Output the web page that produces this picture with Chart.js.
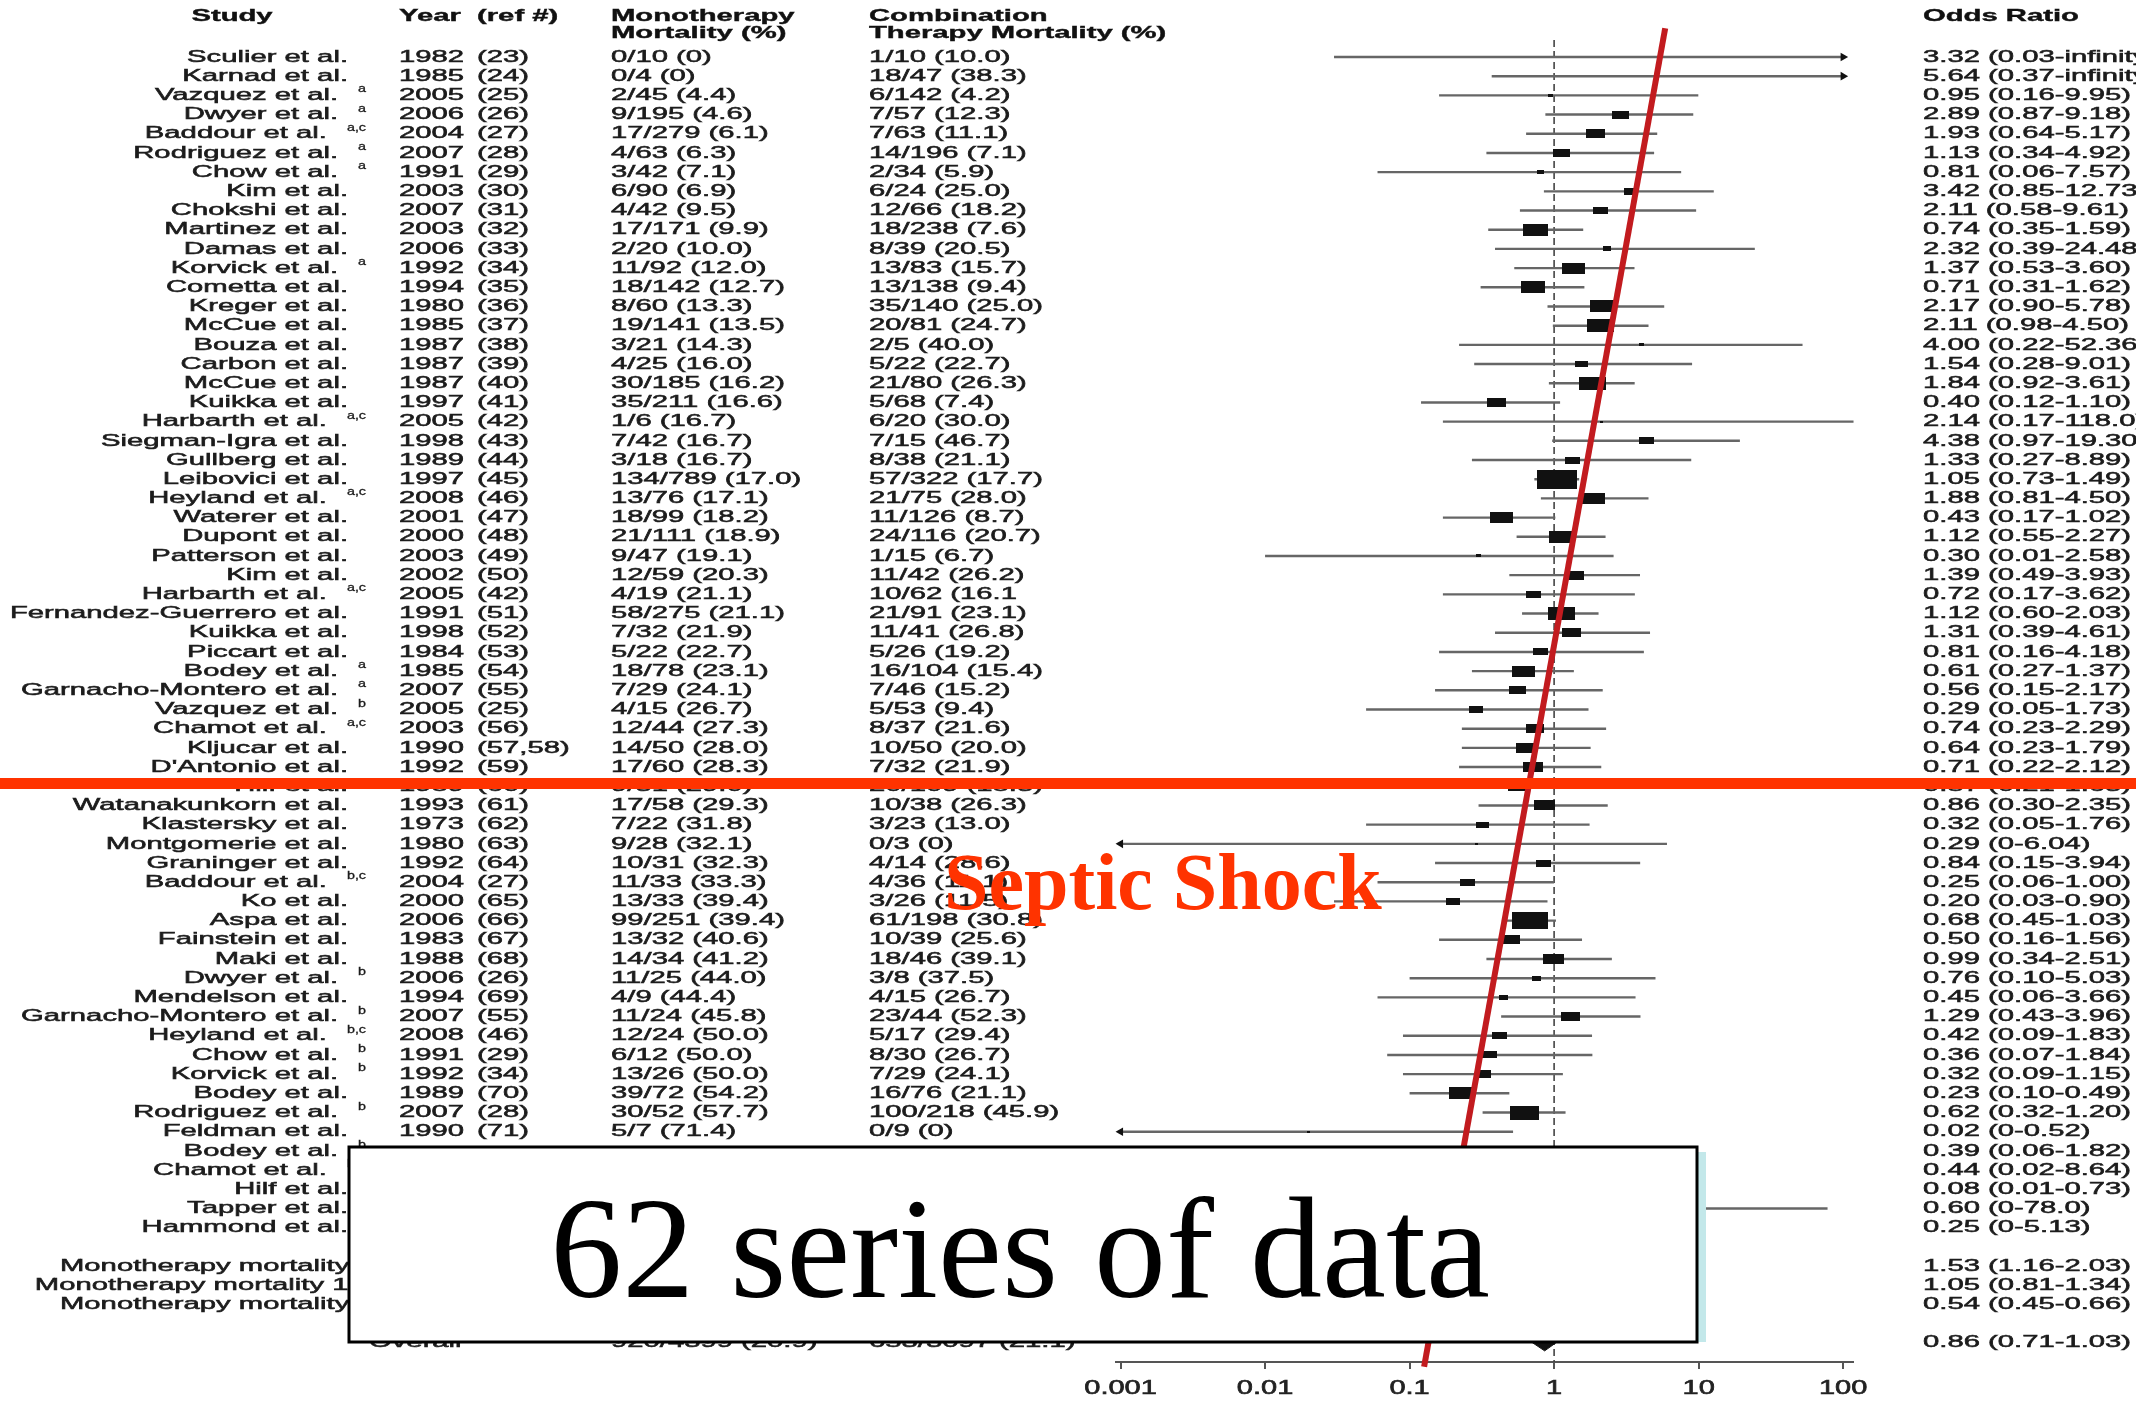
<!DOCTYPE html>
<html><head><meta charset="utf-8">
<script src="https://cdn.jsdelivr.net/npm/chart.js@4.4.0/dist/chart.umd.min.js"></script>
<style>html,body{margin:0;padding:0;background:#fff;}#wrap{width:2136px;height:1401px;}</style>
</head><body><div id="wrap"><canvas id="c" width="2136" height="1401"></canvas></div>
<script>
// ---------------- DATA ----------------
const studies = ["Sculier et al.","Karnad et al.","Vazquez et al.","Dwyer et al.","Baddour et al.","Rodriguez et al.","Chow et al.","Kim et al.","Chokshi et al.","Martinez et al.","Damas et al.","Korvick et al.","Cometta et al.","Kreger et al.","McCue et al.","Bouza et al.","Carbon et al.","McCue et al.","Kuikka et al.","Harbarth et al.","Siegman-Igra et al.","Gullberg et al.","Leibovici et al.","Heyland et al.","Waterer et al.","Dupont et al.","Patterson et al.","Kim et al.","Harbarth et al.","Fernandez-Guerrero et al.","Kuikka et al.","Piccart et al.","Bodey et al.","Garnacho-Montero et al.","Vazquez et al.","Chamot et al.","Kljucar et al.","D'Antonio et al.","Hilf et al.","Watanakunkorn et al.","Klastersky et al.","Montgomerie et al.","Graninger et al.","Baddour et al.","Ko et al.","Aspa et al.","Fainstein et al.","Maki et al.","Dwyer et al.","Mendelson et al.","Garnacho-Montero et al.","Heyland et al.","Chow et al.","Korvick et al.","Bodey et al.","Rodriguez et al.","Feldman et al.","Bodey et al.","Chamot et al.","Hilf et al.","Tapper et al.","Hammond et al."];
const superscripts = ["","","a","a","a,c","a","a","","","","","a","","","","","","","","a,c","","","","a,c","","","","","a,c","","","","a","a","b","a,c","","","","","","","","b,c","","","","","b","","b","b,c","b","b","","b","","b","b,c","","",""];
const years = ["1982","1985","2005","2006","2004","2007","1991","2003","2007","2003","2006","1992","1994","1980","1985","1987","1987","1987","1997","2005","1998","1989","1997","2008","2001","2000","2003","2002","2005","1991","1998","1984","1985","2007","2005","2003","1990","1992","1989","1993","1973","1980","1992","2004","2000","2006","1983","1988","2006","1994","2007","2008","1991","1992","1989","2007","1990","","","","",""];
const refs = ["(23)","(24)","(25)","(26)","(27)","(28)","(29)","(30)","(31)","(32)","(33)","(34)","(35)","(36)","(37)","(38)","(39)","(40)","(41)","(42)","(43)","(44)","(45)","(46)","(47)","(48)","(49)","(50)","(42)","(51)","(52)","(53)","(54)","(55)","(25)","(56)","(57,58)","(59)","(60)","(61)","(62)","(63)","(64)","(27)","(65)","(66)","(67)","(68)","(26)","(69)","(55)","(46)","(29)","(34)","(70)","(28)","(71)","","","","",""];
const monoMortality = ["0/10 (0)","0/4 (0)","2/45 (4.4)","9/195 (4.6)","17/279 (6.1)","4/63 (6.3)","3/42 (7.1)","6/90 (6.9)","4/42 (9.5)","17/171 (9.9)","2/20 (10.0)","11/92 (12.0)","18/142 (12.7)","8/60 (13.3)","19/141 (13.5)","3/21 (14.3)","4/25 (16.0)","30/185 (16.2)","35/211 (16.6)","1/6 (16.7)","7/42 (16.7)","3/18 (16.7)","134/789 (17.0)","13/76 (17.1)","18/99 (18.2)","21/111 (18.9)","9/47 (19.1)","12/59 (20.3)","4/19 (21.1)","58/275 (21.1)","7/32 (21.9)","5/22 (22.7)","18/78 (23.1)","7/29 (24.1)","4/15 (26.7)","12/44 (27.3)","14/50 (28.0)","17/60 (28.3)","9/31 (29.0)","17/58 (29.3)","7/22 (31.8)","9/28 (32.1)","10/31 (32.3)","11/33 (33.3)","13/33 (39.4)","99/251 (39.4)","13/32 (40.6)","14/34 (41.2)","11/25 (44.0)","4/9 (44.4)","11/24 (45.8)","12/24 (50.0)","6/12 (50.0)","13/26 (50.0)","39/72 (54.2)","30/52 (57.7)","5/7 (71.4)","","","","",""];
const comboMortality = ["1/10 (10.0)","18/47 (38.3)","6/142 (4.2)","7/57 (12.3)","7/63 (11.1)","14/196 (7.1)","2/34 (5.9)","6/24 (25.0)","12/66 (18.2)","18/238 (7.6)","8/39 (20.5)","13/83 (15.7)","13/138 (9.4)","35/140 (25.0)","20/81 (24.7)","2/5 (40.0)","5/22 (22.7)","21/80 (26.3)","5/68 (7.4)","6/20 (30.0)","7/15 (46.7)","8/38 (21.1)","57/322 (17.7)","21/75 (28.0)","11/126 (8.7)","24/116 (20.7)","1/15 (6.7)","11/42 (26.2)","10/62 (16.1","21/91 (23.1)","11/41 (26.8)","5/26 (19.2)","16/104 (15.4)","7/46 (15.2)","5/53 (9.4)","8/37 (21.6)","10/50 (20.0)","7/32 (21.9)","20/109 (18.3)","10/38 (26.3)","3/23 (13.0)","0/3 (0)","4/14 (28.6)","4/36 (11.1)","3/26 (11.5)","61/198 (30.8)","10/39 (25.6)","18/46 (39.1)","3/8 (37.5)","4/15 (26.7)","23/44 (52.3)","5/17 (29.4)","8/30 (26.7)","7/29 (24.1)","16/76 (21.1)","100/218 (45.9)","0/9 (0)","","","","",""];
const oddsRatios = ["3.32 (0.03-infinity)","5.64 (0.37-infinity)","0.95 (0.16-9.95)","2.89 (0.87-9.18)","1.93 (0.64-5.17)","1.13 (0.34-4.92)","0.81 (0.06-7.57)","3.42 (0.85-12.73)","2.11 (0.58-9.61)","0.74 (0.35-1.59)","2.32 (0.39-24.48)","1.37 (0.53-3.60)","0.71 (0.31-1.62)","2.17 (0.90-5.78)","2.11 (0.98-4.50)","4.00 (0.22-52.36)","1.54 (0.28-9.01)","1.84 (0.92-3.61)","0.40 (0.12-1.10)","2.14 (0.17-118.0)","4.38 (0.97-19.30)","1.33 (0.27-8.89)","1.05 (0.73-1.49)","1.88 (0.81-4.50)","0.43 (0.17-1.02)","1.12 (0.55-2.27)","0.30 (0.01-2.58)","1.39 (0.49-3.93)","0.72 (0.17-3.62)","1.12 (0.60-2.03)","1.31 (0.39-4.61)","0.81 (0.16-4.18)","0.61 (0.27-1.37)","0.56 (0.15-2.17)","0.29 (0.05-1.73)","0.74 (0.23-2.29)","0.64 (0.23-1.79)","0.71 (0.22-2.12)","0.57 (0.21-1.63)","0.86 (0.30-2.35)","0.32 (0.05-1.76)","0.29 (0-6.04)","0.84 (0.15-3.94)","0.25 (0.06-1.00)","0.20 (0.03-0.90)","0.68 (0.45-1.03)","0.50 (0.16-1.56)","0.99 (0.34-2.51)","0.76 (0.10-5.03)","0.45 (0.06-3.66)","1.29 (0.43-3.96)","0.42 (0.09-1.83)","0.36 (0.07-1.84)","0.32 (0.09-1.15)","0.23 (0.10-0.49)","0.62 (0.32-1.20)","0.02 (0-0.52)","0.39 (0.06-1.82)","0.44 (0.02-8.64)","0.08 (0.01-0.73)","0.60 (0-78.0)","0.25 (0-5.13)"];
// relative study weight (drives box size)
const studyWeights = [0,0,3,8,9,8,4,6.5,7,12,4.5,11,11.5,12,13,3,6,13,9,2,7,7,19,11,11,12,3,9,7,13,9,7,11,8,6.5,8.5,9.5,9.5,10,10,6,2,7,7,6.5,17,9,10,5,5,9,7,7,7.5,12,14,2,5,3,4,2,3];
const summaryLabels = ["Monotherapy mortality <15%","Monotherapy mortality 15-25%","Monotherapy mortality >25%"];
const summaryOddsRatios = ["1.53 (1.16-2.03)","1.05 (0.81-1.34)","0.54 (0.45-0.66)"];
const overallLabel = "Overall";
const overallMono = "920/4399 (20.9)";
const overallCombo = "653/3097 (21.1)";
const overallOddsRatio = "0.86 (0.71-1.03)";
const axisTicks = [0.001, 0.01, 0.1, 1, 10, 100];
const axisTickLabels = ["0.001","0.01","0.1","1","10","100"];
const headerTexts = {study:"Study", year:"Year", ref:"(ref #)", mono1:"Monotherapy", mono2:"Mortality (%)", combo1:"Combination", combo2:"Therapy Mortality (%)", or:"Odds Ratio"};
const trendLine = [{x:5.87, y:-1.5}, {x:0.126, y:68.25}];
const overlayTitle = "Septic Shock";
const overlayNote = "62 series of data";

// ---------------- HELPERS ----------------
function parseOR(s){
  const m = s.match(/^([\d.]+) \(([\d.]+)-([\d.]+|infinity)\)$/);
  return {or:+m[1], lo:+m[2], hi: m[3]==='infinity' ? Infinity : +m[3]};
}
const AX_MIN = 0.001, AX_MAX = 100;
const SUMMARY_ROW0 = 63, OVERALL_ROW = 67;
function makeBox(w,h){
  const c = document.createElement('canvas');
  c.width = Math.max(1, Math.round(w)); c.height = Math.max(1, Math.round(h));
  const g = c.getContext('2d'); g.fillStyle = '#111'; g.fillRect(0,0,c.width,c.height);
  return c;
}
const SX = 1.72;
const ROW_FONT = '17px "Liberation Sans", Arial, sans-serif';
const HEAD_FONT = 'bold 17px "Liberation Sans", Arial, sans-serif';
function stext(ctx, str, x, y, align, font, color, sx, heavy){
  ctx.save();
  ctx.font = font; ctx.fillStyle = color; ctx.textBaseline = 'middle';
  ctx.translate(x, y); ctx.scale(sx, 1); ctx.textAlign = align;
  ctx.fillText(str, 0, 0);
  if (heavy) { ctx.strokeStyle = color; ctx.lineWidth = heavy; ctx.strokeText(str, 0, 0); }
  ctx.restore();
}
function twidth(ctx, str, font, sx){ ctx.save(); ctx.font = font; const w = ctx.measureText(str).width*sx; ctx.restore(); return w; }

// ---------------- DATASETS ----------------
const parsed = oddsRatios.map(parseOR);
const datasets = [];
datasets.push({type:'line', data:[{x:1,y:-0.89},{x:1,y:68}], borderColor:'#444', borderWidth:1.6, borderDash:[7,4], pointRadius:0, order:10, clip:false});
parsed.forEach((p,i)=>{
  const lo = p.lo === 0 ? AX_MIN : p.lo;
  const hi = isFinite(p.hi) ? p.hi : AX_MAX;
  datasets.push({type:'line', data:[{x:lo,y:i},{x:hi,y:i}], borderColor:'#666', borderWidth:2.4,
    pointRadius:[p.lo===0?5:0, isFinite(p.hi)?0:5], pointStyle:'triangle', rotation:[-90,90],
    pointBackgroundColor:'#111', pointBorderColor:'#111', pointBorderWidth:0, order:5, clip:false});
});
datasets.push({type:'line', showLine:false, data: parsed.map((p,i)=>({x:p.or, y:i})),
  pointStyle: studyWeights.map(w => w>0 ? makeBox(w >= 6 ? w*2.1 : w*1.7, w) : 'circle'),
  pointRadius: studyWeights.map(w => w>0 ? 2 : 0), order:3, clip:false});
function diamond(label, row, half){
  const p = parseOR(label);
  return {type:'line', data:[{x:p.lo,y:row},{x:p.or,y:row-half},{x:p.hi,y:row},{x:p.or,y:row+half},{x:p.lo,y:row}],
    borderColor:'#111', borderWidth:1, backgroundColor:'#111', fill:'shape', pointRadius:0, tension:0, order:3, clip:false};
}
summaryOddsRatios.forEach((s,k)=>datasets.push(diamond(s, SUMMARY_ROW0+k, 0.4)));
datasets.push(diamond(overallOddsRatio, OVERALL_ROW, 0.42));
datasets.push({type:'line', data:trendLine, borderColor:'#c21b1f', borderWidth:6, pointRadius:0, order:0, clip:false});

// ---------------- PLUGINS ----------------
const tablePlugin = {
  id:'table',
  beforeDatasetsDraw(chart){
    const ctx = chart.ctx, ys = chart.scales.y, xs = chart.scales.x;
    const col = '#1c1c1c', HV = 0.55;
    stext(ctx, headerTexts.study, 232, 16, 'center', HEAD_FONT, '#111', SX, 0.4);
    stext(ctx, headerTexts.year, 399, 16, 'left', HEAD_FONT, '#111', SX, 0.4);
    stext(ctx, headerTexts.ref, 477, 16, 'left', HEAD_FONT, '#111', SX, 0.4);
    stext(ctx, headerTexts.mono1, 611, 16, 'left', HEAD_FONT, '#111', SX, 0.4);
    stext(ctx, headerTexts.mono2, 611, 33, 'left', HEAD_FONT, '#111', SX, 0.4);
    stext(ctx, headerTexts.combo1, 869, 16, 'left', HEAD_FONT, '#111', SX, 0.4);
    stext(ctx, headerTexts.combo2, 869, 33, 'left', HEAD_FONT, '#111', SX, 0.4);
    stext(ctx, headerTexts.or, 1923, 16, 'left', HEAD_FONT, '#111', SX, 0.4);
    const SUP_FONT = '11px "Liberation Sans", Arial, sans-serif';
    studies.forEach((s,i)=>{
      const y = ys.getPixelForValue(i);
      const sup = superscripts[i];
      if (sup) {
        const sw = twidth(ctx, sup, SUP_FONT, 1.3);
        stext(ctx, sup, 366, y-6, 'right', SUP_FONT, col, 1.3, 0.3);
        stext(ctx, s, 366 - sw - 20, y, 'right', ROW_FONT, col, SX, HV);
      } else {
        stext(ctx, s, 348, y, 'right', ROW_FONT, col, SX, HV);
      }
      stext(ctx, years[i], 399, y, 'left', ROW_FONT, col, SX, HV);
      stext(ctx, refs[i], 477, y, 'left', ROW_FONT, col, SX, HV);
      stext(ctx, monoMortality[i], 611, y, 'left', ROW_FONT, col, SX, HV);
      stext(ctx, comboMortality[i], 869, y, 'left', ROW_FONT, col, SX, HV);
      stext(ctx, oddsRatios[i], 1923, y, 'left', ROW_FONT, col, SX, HV);
    });
    const rightEdge = 60 + twidth(ctx, summaryLabels[0], ROW_FONT, SX);
    summaryLabels.forEach((s,k)=>{
      const y = ys.getPixelForValue(SUMMARY_ROW0+k);
      stext(ctx, s, rightEdge, y, 'right', ROW_FONT, col, SX, HV);
      stext(ctx, summaryOddsRatios[k], 1923, y, 'left', ROW_FONT, col, SX, HV);
    });
    const yo = ys.getPixelForValue(OVERALL_ROW);
    stext(ctx, overallLabel, 369, yo, 'left', ROW_FONT, col, SX, HV);
    stext(ctx, overallMono, 611, yo, 'left', ROW_FONT, col, SX, HV);
    stext(ctx, overallCombo, 869, yo, 'left', ROW_FONT, col, SX, HV);
    stext(ctx, overallOddsRatio, 1923, yo, 'left', ROW_FONT, col, SX, HV);
    axisTicks.forEach((v,k)=>{
      stext(ctx, axisTickLabels[k], xs.getPixelForValue(v), 1388, 'center', '20px "Liberation Sans", Arial, sans-serif', '#222', 1.45, 0.6);
    });
  }
};
const overlayPlugin = {
  id:'overlay',
  afterDatasetsDraw(chart){
    const ctx = chart.ctx;
    ctx.save();
    ctx.fillStyle = '#ff3300';
    ctx.fillRect(0, 778, 2136, 11);
    ctx.font = 'bold 80px "Liberation Serif", "Times New Roman", serif';
    ctx.textAlign = 'left'; ctx.textBaseline = 'alphabetic';
    ctx.fillText(overlayTitle, 944, 909);
    ctx.fillStyle = '#c3e8ea';
    ctx.fillRect(1697, 1152, 9, 190);
    ctx.fillStyle = '#fff';
    ctx.fillRect(349, 1147, 1348, 195);
    ctx.strokeStyle = '#000'; ctx.lineWidth = 3;
    ctx.strokeRect(349, 1147, 1348, 195);
    ctx.fillStyle = '#000';
    ctx.font = '144px "Liberation Serif", "Times New Roman", serif';
    ctx.textAlign = 'center';
    ctx.fillText(overlayNote, 1020, 1297);
    ctx.restore();
  }
};

new Chart(document.getElementById('c'), {
  type:'line',
  data:{datasets},
  options:{
    responsive:false, animation:false, devicePixelRatio:1, events:[],
    layout:{padding:{left:1116, right:283, top:38, bottom:0}},
    plugins:{legend:{display:false}, tooltip:{enabled:false}},
    scales:{
      x:{type:'logarithmic', min:0.00093, max:117,
        afterBuildTicks: s => { s.ticks = axisTicks.map(v=>({value:v})); },
        afterFit: s => { s.height = 39; },
        ticks:{display:false},
        grid:{drawOnChartArea:false, drawTicks:true, tickLength:7, color:'#555', lineWidth:2},
        border:{display:true, color:'#555', width:2}},
      y:{type:'linear', min:-0.99, max:68, reverse:true, display:false}
    }
  },
  plugins:[tablePlugin, overlayPlugin]
});
</script></body></html>
